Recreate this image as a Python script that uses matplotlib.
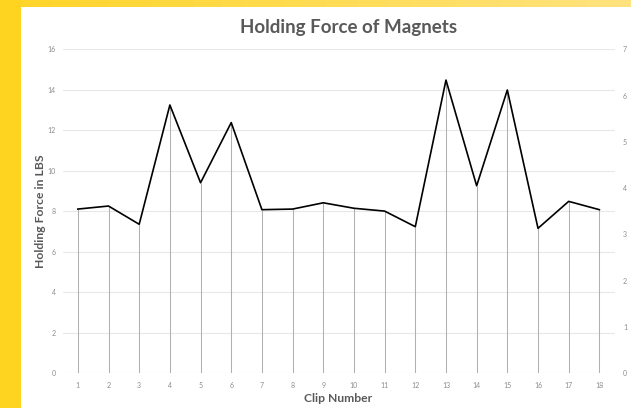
import matplotlib
matplotlib.use("Agg")
import matplotlib.pyplot as plt
import numpy as np
from matplotlib.colors import LinearSegmentedColormap

clips = list(range(1, 19))
force_lbs = [8.11, 8.26, 7.36, 13.25, 9.41, 12.38, 8.08, 8.11, 8.42,
             8.15, 8.01, 7.24, 14.48, 9.26, 13.99, 7.16, 8.49, 8.08]
left_ticks = [0, 2, 4, 6, 8, 10, 12, 14, 16]
right_ticks = [0, 1, 2, 3, 4, 5, 6, 7]

title = "Holding Force of Magnets"
xlabel = "Clip Number"
ylabel = "Holding Force in LBS"

FONT = "Lato"
W, H = 631, 408
fig = plt.figure(figsize=(W / 100, H / 100), dpi=100)
fig.patch.set_facecolor("white")

# yellow frame: solid band on the left, gradient band along the top
bg = fig.add_axes([0, 0, 1, 1], zorder=-10)
bg.axis("off")
bg.add_patch(plt.Rectangle((0, 0), 21, H, color="#FFD421", lw=0))
grad = LinearSegmentedColormap.from_list("band", ["#FFD52A", "#FFE37F"])
bg.imshow(np.linspace(0, 1, 256)[None, :], cmap=grad, extent=(21, W, 7, 0),
          aspect="auto")
bg.set_xlim(0, W)
bg.set_ylim(H, 0)

ax = fig.add_axes([62.5 / W, 1 - 373.3 / H, (614.7 - 62.5) / W, (373.3 - 49.3) / H])
ax.set_facecolor("none")
ax.set_xlim(0.5, 18.5)
ax.set_ylim(0, 16)

for s in ax.spines.values():
    s.set_visible(False)
ax.set_yticks(left_ticks)
ax.set_xticks(clips)
ax.grid(axis="y", color="#E8E8E8", lw=0.8)
ax.set_axisbelow(True)
ax.tick_params(length=0, labelsize=5, labelcolor="#8C8C8C")
ax.tick_params(axis="y", pad=5)
ax.tick_params(axis="x", pad=6)
for lab in ax.get_xticklabels() + ax.get_yticklabels():
    lab.set_family(FONT)

ax.vlines(clips, 0, force_lbs, color="#B0B0B0", lw=0.75, zorder=2)
ax.plot(clips, force_lbs, color="black", lw=1.2, zorder=3)

ax.set_xlabel(xlabel, fontsize=8.7, fontweight="bold", color="#595959",
              family=FONT, labelpad=3)
ax.set_ylabel(ylabel, fontsize=8.7, fontweight="bold", color="#595959",
              family=FONT, labelpad=1)

ax2 = ax.twinx()
ax2.set_ylim(0, 7)
ax2.set_yticks(right_ticks)
for s in ax2.spines.values():
    s.set_visible(False)
ax2.tick_params(length=0, labelsize=5, labelcolor="#8C8C8C", pad=6)
for lab in ax2.get_yticklabels():
    lab.set_family(FONT)

fig.text(349 / W, 1 - 27 / H, title, ha="center", va="center",
         fontsize=13.5, fontweight="bold", color="#595959", family=FONT)

fig.savefig("out.png", dpi=100)
